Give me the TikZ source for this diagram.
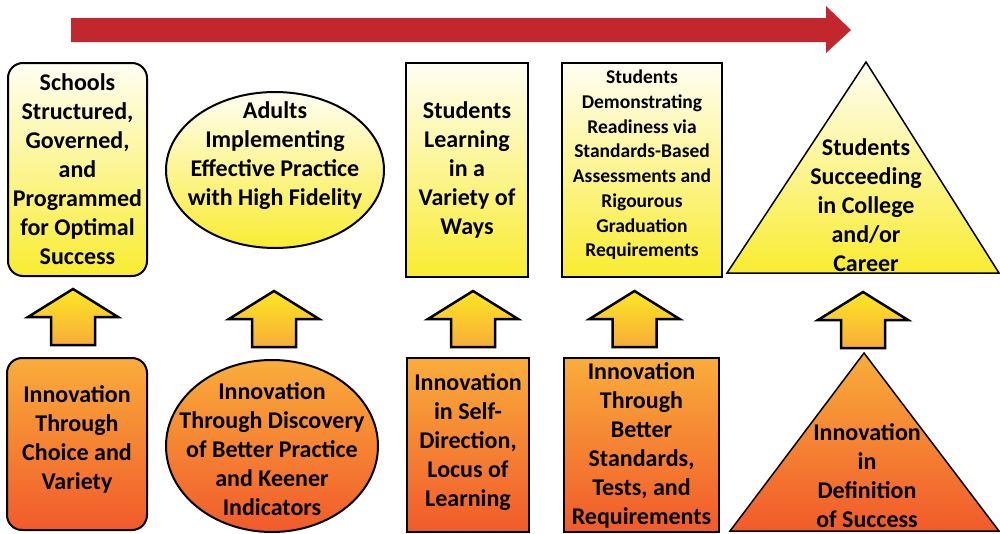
\documentclass[tikz,border=0pt]{standalone}
\usepackage{fontspec}
\setmainfont{Carlito}
\usetikzlibrary{shapes.geometric,calc}
\definecolor{redarrow}{HTML}{C1272D}
\definecolor{ytop}{HTML}{FFFEF2}
\definecolor{ybot}{HTML}{F9EC31}
\definecolor{otop}{HTML}{F9AD3B}
\definecolor{obot}{HTML}{F15A2B}
\definecolor{atop}{HTML}{FDE725}
\definecolor{abot}{HTML}{F7AC38}
\tikzset{
  lbl/.style={font=\bfseries\fontsize{24}{29}\selectfont, align=center, inner sep=1pt},
  small/.style={font=\bfseries\fontsize{19.5}{24.7}\selectfont},
  outline/.style={draw=black, line width=2pt},
  yfill/.style={top color=ytop, bottom color=ybot},
  ofill/.style={top color=otop, bottom color=obot},
  rbox/.style={lbl, outline, rectangle},
  roundbox/.style={rbox, rounded corners=15pt},
  ellbox/.style={lbl, outline, ellipse, inner sep=0pt},
  uparrow/.pic={\draw[line width=2.5pt, line join=miter, top color=atop, bottom color=abot]
     (0,0) -- (22,0) -- (22,-28) -- (45,-28) -- (0,-56) -- (-45,-28) -- (-22,-28) -- (-22,0) -- cycle;}
}
\begin{document}
\begin{tikzpicture}[x=1pt,y=-1pt]
\useasboundingbox (0,0) rectangle (1000,533);
% progress arrow
\fill[redarrow] (71,18) -- (826,18) -- (826,6) -- (851,30) -- (826,53) -- (826,42) -- (71,42) -- cycle;
% top row
\node[roundbox, yfill, minimum width=139pt, minimum height=213pt] (t1) at (77.5,169.5)
  {Schools\\Structured,\\Governed,\\and\\Programmed\\for Optimal\\Success};
\node[ellbox, yfill, minimum width=218pt, minimum height=156pt] (t2) at (275,170) {};
\node[lbl] (t2txt) at (275,156) {Adults\\Implementing\\Effective Practice\\with High Fidelity};
\node[rbox, yfill, minimum width=122pt, minimum height=214pt] (t3) at (467,170)
  {Students\\Learning\\in a\\Variety of\\Ways};
\node[rbox, yfill, minimum width=160pt, minimum height=214pt] (t4) at (642,170) {};
\node[lbl, small] (t4txt) at (642,165)
  {Students\\Demonstrating\\Readiness via\\Standards-Based\\Assessments and\\Rigourous\\Graduation\\Requirements};
\coordinate (t5apex) at (866,62);
\coordinate (t5r) at (999,273);
\coordinate (t5l) at (727,273);
\path[yfill] (t5apex) -- (t5r) -- (t5l) -- cycle;
\draw[line width=1.5pt, line join=miter] (t5apex) -- (t5r) -- (t5l) -- cycle;
\node[lbl] (t5) at (866,205) {Students\\Succeeding\\in College\\and/or\\Career};
% bottom row
\node[roundbox, ofill, minimum width=140pt, minimum height=172pt] (b1) at (77,444) {};
\node[lbl] (b1txt) at (77,439) {Innovation\\Through\\Choice and\\Variety};
\node[ellbox, ofill, minimum width=212pt, minimum height=172pt] (b2) at (272,446) {};
\node[lbl] (b2txt) at (272,449)
  {Innovation\\Through Discovery\\of Better Practice\\and Keener\\Indicators};
\node[rbox, ofill, minimum width=122pt, minimum height=174pt] (b3) at (468,445) {};
\node[lbl] (b3txt) at (468,442) {Innovation\\in Self-\\Direction,\\Locus of\\Learning};
\node[rbox, ofill, minimum width=155pt, minimum height=174pt] (b4) at (641.5,445)
  {Innovation\\Through\\Better\\Standards,\\Tests, and\\Requirements};
\coordinate (b5apex) at (864,353);
\coordinate (b5r) at (999,531);
\coordinate (b5l) at (730,531);
\path[ofill] (b5apex) -- (b5r) -- (b5l) -- cycle;
\draw[line width=1.5pt, line join=miter] (b5apex) -- (b5r) -- (b5l) -- cycle;
\node[lbl] (b5) at (867,476) {Innovation\\in\\Definition\\of Success};
% up arrows
\pic at ($(b1.north)+(-4,-12)$) {uparrow};
\pic at ($(b2.north)+(2,-12)$) {uparrow};
\pic at ($(b3.north)+(5,-10)$) {uparrow};
\pic at ($(b4.north)+(-7,-10)$) {uparrow};
\pic at ($(b5apex)+(-1,-5)$) {uparrow};
\end{tikzpicture}
\end{document}
